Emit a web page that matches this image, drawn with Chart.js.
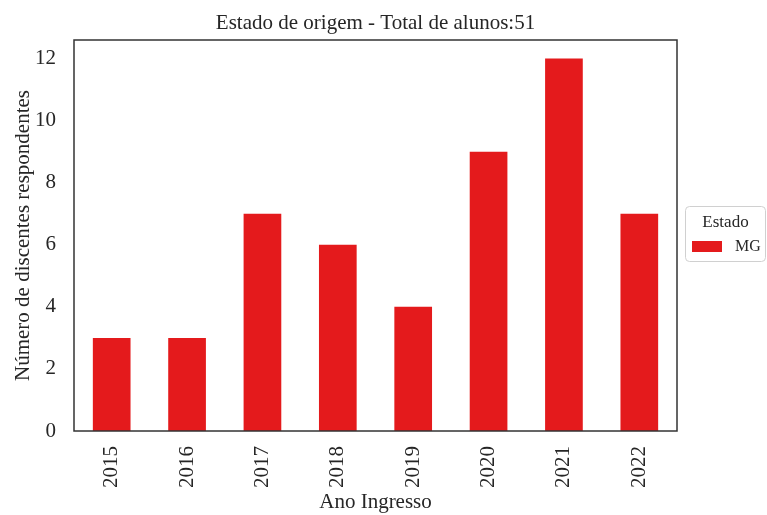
<!DOCTYPE html>
<html>
<head>
<meta charset="utf-8">
<script src="https://cdn.jsdelivr.net/npm/chart.js@4"></script>
<style>
  html, body { margin: 0; padding: 0; background: #fff; }
  #wrap { width: 767px; height: 515px; }
</style>
</head>
<body>
<div id="wrap"><canvas id="chart" width="767" height="515"></canvas></div>
<script>
const anos = ['2015', '2016', '2017', '2018', '2019', '2020', '2021', '2022'];
const mg = [3, 3, 7, 6, 4, 9, 12, 7];
const yTicks = [0, 2, 4, 6, 8, 10, 12];
const titulo = 'Estado de origem - Total de alunos:51';
const serie = 'MG';
const legendaTitulo = 'Estado';

const FONT = '"Liberation Serif", "Times New Roman", serif';

// spines, title and outside legend, drawn like matplotlib does
const molduraPlugin = {
  id: 'moldura',
  afterDraw(chart) {
    const { ctx, chartArea: a } = chart;
    ctx.save();
    ctx.strokeStyle = '#333333';
    ctx.lineWidth = 1.5;
    ctx.strokeRect(a.left, a.top, a.right - a.left, a.bottom - a.top);

    ctx.fillStyle = '#262626';
    ctx.font = '21px ' + FONT;
    ctx.textAlign = 'center';
    ctx.textBaseline = 'middle';
    ctx.fillText(titulo, (a.left + a.right) / 2, 23);

    // legend box
    const ds = chart.data.datasets[0];
    const bx = 685, by = 206, bw = 81, bh = 56;
    ctx.strokeStyle = '#d0d0d0';
    ctx.lineWidth = 1;
    ctx.beginPath();
    ctx.roundRect(bx + 0.5, by + 0.5, bw - 1, bh - 1, 4);
    ctx.fillStyle = 'rgba(255,255,255,0.8)';
    ctx.fill();
    ctx.stroke();
    ctx.fillStyle = '#262626';
    ctx.font = '17px ' + FONT;
    ctx.fillText(legendaTitulo, bx + bw / 2, by + 17);
    ctx.fillStyle = ds.backgroundColor;
    ctx.fillRect(692, 241, 30, 11);
    ctx.fillStyle = '#262626';
    ctx.textAlign = 'left';
    ctx.font = '16px ' + FONT;
    ctx.fillText(ds.label, 735, 247);
    ctx.restore();
  }
};

new Chart(document.getElementById('chart'), {
  type: 'bar',
  data: {
    labels: anos,
    datasets: [{
      label: serie,
      data: mg,
      backgroundColor: '#e41a1c',
      borderWidth: 0,
      categoryPercentage: 1,
      barPercentage: 0.5
    }]
  },
  options: {
    responsive: false,
    animation: false,
    layout: { padding: { top: 40, right: 90, left: 0, bottom: 0 } },
    plugins: {
      legend: { display: false },
      title: { display: false },
      tooltip: { enabled: false }
    },
    scales: {
      x: {
        grid: { display: false, drawTicks: false },
        border: { display: false },
        ticks: {
          color: '#262626',
          font: { family: FONT, size: 21 },
          minRotation: 90,
          maxRotation: 90,
          padding: 15
        },
        title: {
          display: true,
          text: 'Ano Ingresso',
          color: '#262626',
          font: { family: FONT, size: 21 },
          padding: { top: 0, bottom: 0 }
        },
        afterFit(scale) { scale.height = 84; }
      },
      y: {
        min: 0,
        max: 12.6,
        grid: { display: false, drawTicks: false },
        border: { display: false },
        afterBuildTicks(scale) { scale.ticks = yTicks.map(v => ({ value: v })); },
        ticks: {
          color: '#262626',
          font: { family: FONT, size: 21 },
          padding: 18
        },
        title: {
          display: true,
          text: 'Número de discentes respondentes',
          color: '#262626',
          font: { family: FONT, size: 21 },
          padding: { top: 11, bottom: 0 }
        },
        afterFit(scale) { scale.width = 74; }
      }
    }
  },
  plugins: [molduraPlugin]
});
</script>
</body>
</html>
